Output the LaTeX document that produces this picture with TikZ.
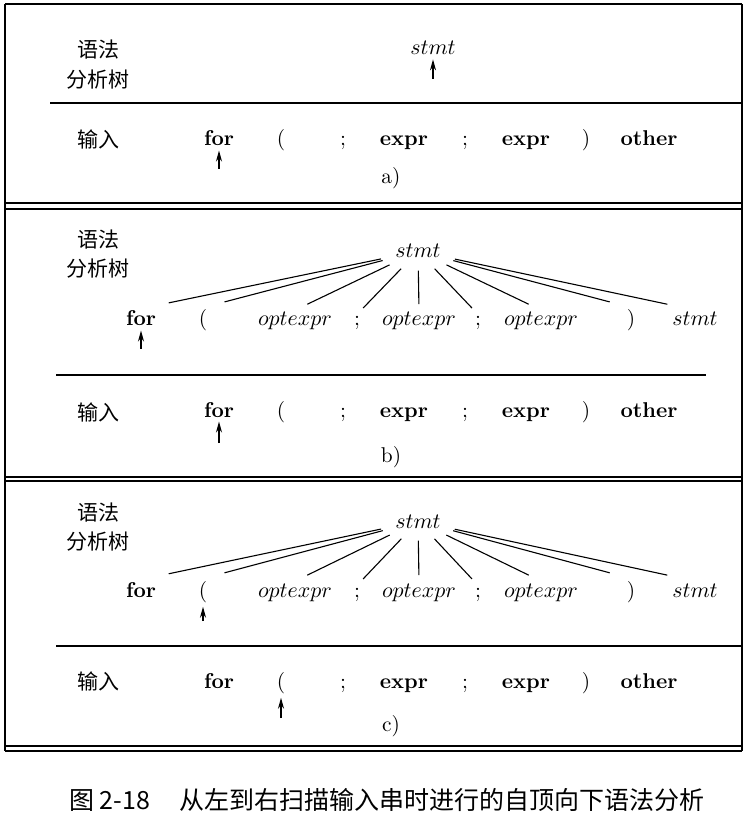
\documentclass[tikz,border=0pt]{standalone}
\usepackage{fontspec}
\newfontfamily\cjk{Noto Sans CJK SC}
\usetikzlibrary{calc, arrows.meta, shapes.geometric}

\tikzset{
  token/.style={inner sep=1pt, anchor=base, font=\fontsize{10.7}{12}\selectfont},
  rootnode/.style={ellipse, inner xsep=2.8pt, inner ysep=3.3pt, anchor=base, font=\fontsize{10.7}{12}\selectfont},
  cnlabel/.style={font=\cjk\fontsize{10.5}{12}\selectfont},
  frameline/.style={line width=0.9pt},
  branch/.style={line width=0.55pt},
  pointer/.style={-{Stealth[length=5.5pt,width=3pt]}, line width=0.6pt, shorten >=1pt},
}

\begin{document}
\begin{tikzpicture}[x=0.5pt, y=-0.5pt]
  \fill[white] (0,0) rectangle (748,822);
  \useasboundingbox (0,0) rectangle (748,822);
  % frame of the three panels
  \draw[frameline] (5,4) -- (742,4);
  \draw[frameline] (5,4) -- (5,751) (742,4) -- (742,751);
  \foreach \y in {203,209,477,481,746,751}
    \draw[frameline] (5,\y) -- (742,\y);
  \draw[frameline] (50,103) -- (742,103);
  \draw[frameline] (56,375) -- (706,375);
  \draw[frameline] (56,646) -- (742,646);

  % row labels and panel letters
  \foreach \p/\ya/\yb/\yc/\yl in {a/50/80/139/184, b/240/269/412/462, c/513/542/681/731} {
    \node[cnlabel] (syn\p) at (98,\ya) {语法};
    \node[cnlabel] (tree\p) at (98,\yb) {分析树};
    \node[cnlabel] (inp\p) at (98,\yc) {输入};
    \node[token] (letter\p) at (391,\yl) {\p)};
  }

  % input tokens
  \foreach \p/\y in {a/146, b/417, c/688}
    \foreach \x/\tk [count=\i] in {219/\textbf{for}, 281/{(}, 343/{;}, 404/\textbf{expr}, 465/{;}, 526/\textbf{expr}, 586/{)}, 649/\textbf{other}}
      \node[token] (in\p\i) at (\x,\y) {\tk};

  % parse trees
  \node[token] (roota) at (433,55) {$stmt$};
  \node[rootnode] (rootb) at (418,258) {$stmt$};
  \node[rootnode] (rootc) at (418,528) {$stmt$};
  \foreach \p/\y in {b/326, c/597} {
    \foreach \x/\tk [count=\i] in {141/\textbf{for}, 203/{(}, 295/$optexpr$, 357/{;}, 419/$optexpr$, 478/{;}, 541/$optexpr$, 631/{)}, 695/$stmt$}
      \node[token] (kid\p\i) at (\x,\y) {\tk};
    \foreach \i in {1,...,9}
      \draw[branch] (root\p) -- ($(root\p)!0.9!(kid\p\i.north)$);
  }

  % lookahead pointers
  \coordinate (pa) at (433,79);
  \draw[pointer] (pa) -- (roota);
  \coordinate (qa) at (219,169);
  \draw[pointer] (qa) -- (ina1);
  \coordinate (pb) at (141,349);
  \draw[pointer] (pb) -- (kidb1);
  \coordinate (qb) at (219,443);
  \draw[pointer] (qb) -- (inb1);
  \coordinate (pc) at (203,621);
  \draw[pointer] (pc) -- (kidc2);
  \coordinate (qc) at (281,718);
  \draw[pointer] (qc) -- (inc2);

  % caption
  \node[font=\cjk\fontsize{12.5}{14}\selectfont] (caption) at (387,800)
    {图 2-18\hspace{1.2em}从左到右扫描输入串时进行的自顶向下语法分析};
\end{tikzpicture}
\end{document}
